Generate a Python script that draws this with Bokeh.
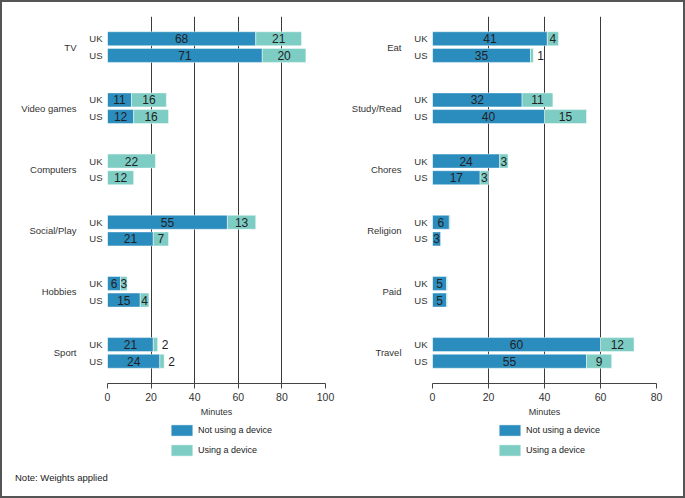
from bokeh.plotting import figure
from bokeh.models import (ColumnDataSource, FactorRange, Range1d, CategoricalAxis,
                          FixedTicker, Legend, LegendItem, Div)
from bokeh.layouts import row, column
from bokeh.core.properties import value
from bokeh.embed import file_html
from bokeh.resources import INLINE

# ---------------- data ----------------
countries = ["UK", "US"]

left_groups = ["TV", "Video games", "Computers", "Social/Play", "Hobbies", "Sport"]
left_uk_nodevice = [68, 11, 0, 55, 6, 21]
left_uk_device = [21, 16, 22, 13, 3, 2]
left_us_nodevice = [71, 12, 0, 21, 15, 24]
left_us_device = [20, 16, 12, 7, 4, 2]

right_groups = ["Eat", "Study/Read", "Chores", "Religion", "Paid", "Travel"]
right_uk_nodevice = [41, 32, 24, 6, 5, 60]
right_uk_device = [4, 11, 3, 0.3, 0.3, 12]
right_us_nodevice = [35, 40, 17, 3, 5, 55]
right_us_device = [1, 15, 3, 0, 0.3, 9]

left_ticks = [0, 20, 40, 60, 80, 100]
right_ticks = [0, 20, 40, 60, 80]

series_labels = ["Not using a device", "Using a device"]
axis_title = "Minutes"
note_text = "Note: Weights applied"

# ---------------- style ----------------
BLUE = "#2b8cbe"
TEAL = "#7ecdc4"
FONT = "Liberation Sans"
FONT_V = value(FONT)
TXT = "#222222"
FIG_H = 420
LEG_H = 40


def fmt(v):
    return str(int(round(v)))


def make_panel(groups, uk_nd, uk_d, us_nd, us_d, ticks, width, mb_left, mb_right):
    factors = []
    for g in reversed(groups):
        for c in reversed(countries):
            factors.append((g, c))

    bars = {"y": [], "nd": [], "tot": []}
    inside = {"x": [], "y": [], "t": []}
    outside = {"x": [], "y": [], "t": []}
    for g, c in factors:
        i = groups.index(g)
        nd = uk_nd[i] if c == "UK" else us_nd[i]
        d = uk_d[i] if c == "UK" else us_d[i]
        bars["y"].append((g, c))
        bars["nd"].append(nd)
        bars["tot"].append(nd + d)
        if nd >= 0.5:
            inside["x"].append(nd / 2)
            inside["y"].append((g, c))
            inside["t"].append(fmt(nd))
        if d >= 3:
            inside["x"].append(nd + d / 2)
            inside["y"].append((g, c))
            inside["t"].append(fmt(d))
        elif d >= 0.5:
            outside["x"].append(nd + d)
            outside["y"].append((g, c))
            outside["t"].append(fmt(d))

    y_range = FactorRange(factors=factors, group_padding=1.675,
                          range_padding=0.0822, range_padding_units="percent")
    p = figure(width=width, height=FIG_H, y_range=y_range,
               x_range=Range1d(ticks[0], ticks[-1]),
               output_backend="svg", toolbar_location=None,
               min_border_left=mb_left, min_border_right=mb_right,
               min_border_top=14, min_border_bottom=FIG_H - 367 - 14,
               outline_line_color=None, background_fill_color="white",
               border_fill_color="white")
    p.extra_y_ranges = {"grp": FactorRange(factors=list(reversed(groups)))}

    src = ColumnDataSource(bars)
    p.hbar(y="y", left=0, right="nd", height=0.84, source=src,
           fill_color=BLUE, line_color="white", line_alpha=0.45)
    p.hbar(y="y", left="nd", right="tot", height=0.84, source=src,
           fill_color=TEAL, line_color="white", line_alpha=0.45)

    p.text(x="x", y="y", text="t", source=ColumnDataSource(inside),
           text_align="center", text_baseline="middle", text_font=FONT_V,
           text_font_size="12px", text_color=TXT)
    p.text(x="x", y="y", text="t", source=ColumnDataSource(outside),
           text_align="left", text_baseline="middle", text_font=FONT_V,
           text_font_size="12px", text_color=TXT, x_offset=4)

    # grid
    p.ygrid.visible = False
    p.xgrid.ticker = FixedTicker(ticks=ticks[1:-1])
    p.xgrid.grid_line_color = "#3a3a3a"
    p.xgrid.grid_line_width = 1

    # x axis
    xa = p.xaxis[0]
    xa.ticker = FixedTicker(ticks=ticks)
    xa.minor_tick_line_color = None
    xa.axis_line_color = "#444444"
    xa.major_tick_line_color = "#444444"
    xa.major_tick_out = 5
    xa.major_tick_in = 0
    xa.major_label_standoff = 4
    xa.major_label_text_font = FONT
    xa.major_label_text_font_size = "10.5px"
    xa.major_label_text_color = "#333333"
    xa.axis_label = axis_title
    xa.axis_label_text_font = FONT
    xa.axis_label_text_font_size = "9px"
    xa.axis_label_text_font_style = "normal"
    xa.axis_label_text_color = "#333333"
    xa.axis_label_standoff = 3

    # nested y axis: show only the country level
    ya = p.yaxis[0]
    ya.axis_line_color = None
    ya.major_tick_line_color = None
    ya.major_tick_out = 0
    ya.major_tick_in = 0
    ya.major_label_standoff = 5
    ya.major_label_text_font = FONT
    ya.major_label_text_font_size = "9.5px"
    ya.major_label_text_color = "#333333"
    ya.group_text_font_size = "0px"
    ya.group_text_color = None
    ya.separator_line_color = None

    gax = CategoricalAxis(y_range_name="grp", axis_line_color=None,
                          major_tick_line_color=None, major_tick_out=0,
                          major_tick_in=0, major_label_standoff=10,
                          major_label_text_font=FONT,
                          major_label_text_font_size="9.5px",
                          major_label_text_color="#333333")
    p.add_layout(gax, "left")
    return p


def make_legend(width, leg_x):
    lf = figure(width=width, height=LEG_H, output_backend="svg",
                toolbar_location=None, min_border=0, x_axis_location=None,
                y_axis_location=None, outline_line_color=None,
                x_range=Range1d(0, 1), y_range=Range1d(0, 1))
    lf.grid.visible = False
    # swatch-only renderers, kept outside the visible range
    swatch = ColumnDataSource({"y": [-5], "l": [0], "r": [1]})
    r1 = lf.hbar(y="y", left="l", right="r", height=1, source=swatch,
                 fill_color=BLUE, line_color="white", line_alpha=0.45)
    r2 = lf.hbar(y="y", left="l", right="r", height=1, source=swatch,
                 fill_color=TEAL, line_color="white", line_alpha=0.45)
    legend = Legend(items=[LegendItem(label=series_labels[0], renderers=[r1]),
                           LegendItem(label=series_labels[1], renderers=[r2])],
                    location=(leg_x, 5), orientation="vertical",
                    glyph_width=27, glyph_height=14, label_height=14,
                    label_standoff=3, spacing=6, padding=0, margin=0,
                    border_line_color=None, background_fill_alpha=0,
                    label_text_font=FONT, label_text_font_size="9px",
                    label_text_color=TXT)
    lf.add_layout(legend, "center")
    return lf


p1 = make_panel(left_groups, left_uk_nodevice, left_uk_device, left_us_nodevice,
                left_us_device, left_ticks, 338, 105, 15)
p2 = make_panel(right_groups, right_uk_nodevice, right_uk_device, right_us_nodevice,
                right_us_device, right_ticks, 343, 92, 27)
l1 = make_legend(338, 166)
l2 = make_legend(343, 156)

note = Div(text=f'<div style="margin:10px 0 0 13px; font-family:\'Liberation Sans\';'
                f' font-size:9.5px; line-height:12px; color:{TXT};">{note_text}</div>',
           width=681, height=34, margin=0)

layout = column(row(p1, p2), row(l1, l2), note,
                styles={"border": "2px solid #555555", "background-color": "white"})

open("out.html", "w").write(file_html(layout, INLINE))
